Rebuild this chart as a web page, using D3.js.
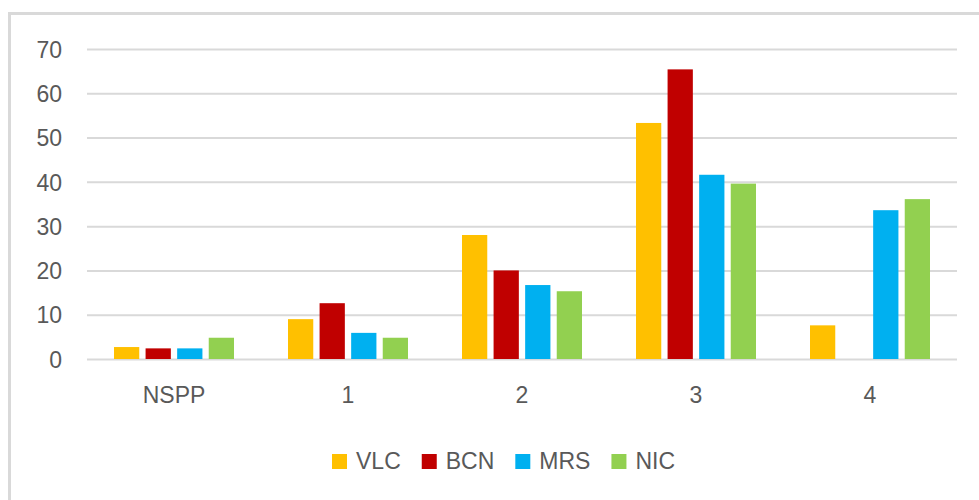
<!DOCTYPE html>
<html>
<head>
<meta charset="utf-8">
<script src="https://cdn.jsdelivr.net/npm/d3@7"></script>
<style>
  body { margin: 0; background: #fff; }
  text { font-family: "Liberation Sans", Arial, sans-serif; fill: #595959; }
</style>
</head>
<body>
<div id="chart"></div>
<script>
"use strict"

// data
const categories = ["NSPP", "1", "2", "3", "4"];
const seriesNames = ["VLC", "BCN", "MRS", "NIC"];
const seriesColors = ["#FFC000", "#C00000", "#00B0F0", "#92D050"];
const vlc = [2.7, 9.0, 28.0, 53.3, 7.6];
const bcn = [2.4, 12.6, 20.0, 65.4, 0];
const mrs = [2.4, 5.9, 16.7, 41.6, 33.6];
const nic = [4.8, 4.8, 15.3, 39.6, 36.1];
const yTicks = [0, 10, 20, 30, 40, 50, 60, 70];

const seriesValues = [vlc, bcn, mrs, nic];

const width = 979, height = 500;

var svg = d3.select("#chart")
  .append("svg")
    .attr("width", width)
    .attr("height", height);

// outer frame of the chart
svg.append("rect")
  .attr("x", 9.5)
  .attr("y", 13.5)
  .attr("width", 1000)
  .attr("height", 520)
  .style("fill", "none")
  .style("stroke", "#d9d9d9")
  .style("stroke-width", 3);

// scales
var x = d3.scaleBand()
  .domain(categories)
  .range([87, 957]);

var xInner = d3.scaleBand()
  .domain(seriesNames)
  .range([27, x.bandwidth() - 27])
  .paddingInner(0.2);

var y = d3.scaleLinear()
  .domain([0, 70])
  .range([359, 49]);

// gridlines + y labels
var yAxis = svg.append("g")
  .attr("transform", "translate(87,0)")
  .call(d3.axisLeft(y).tickValues(yTicks).tickSize(-(957 - 87)).tickPadding(25));
yAxis.select(".domain").remove();
yAxis.selectAll(".tick line")
  .style("stroke", "#d9d9d9")
  .style("stroke-width", 2);
yAxis.selectAll(".tick text")
  .style("font-size", "23px")
  .style("font-family", "'Liberation Sans', Arial, sans-serif")
  .style("fill", "#595959")
  .attr("dy", "0.36em");

// category labels
var xAxis = svg.append("g")
  .attr("transform", "translate(0,359)")
  .call(d3.axisBottom(x).tickSize(0).tickPadding(28));
xAxis.select(".domain").remove();
xAxis.selectAll(".tick text")
  .style("font-size", "23px")
  .style("font-family", "'Liberation Sans', Arial, sans-serif")
  .style("fill", "#595959");

// bars
var rows = [];
categories.forEach(function(c, i) {
  seriesNames.forEach(function(s, j) {
    rows.push({cat: c, series: s, value: seriesValues[j][i], color: seriesColors[j]});
  });
});

svg.append("g").selectAll("rect")
  .data(rows.filter(function(d) { return d.value > 0; }))
  .enter()
  .append("rect")
    .attr("x", function(d) { return x(d.cat) + xInner(d.series); })
    .attr("y", function(d) { return y(d.value); })
    .attr("width", xInner.bandwidth())
    .attr("height", function(d) { return y(0) - y(d.value); })
    .style("fill", function(d) { return d.color; });

// legend
var legend = svg.append("g").attr("transform", "translate(332,0)");
var lx = 0;
seriesNames.forEach(function(s, j) {
  legend.append("rect")
    .attr("x", lx)
    .attr("y", 454)
    .attr("width", 15)
    .attr("height", 15)
    .style("fill", seriesColors[j]);
  var t = legend.append("text")
    .attr("x", lx + 24)
    .attr("y", 469)
    .style("font-size", "23px")
    .text(s);
  lx += 24 + t.node().getComputedTextLength() + 21;
});
</script>
</body>
</html>
